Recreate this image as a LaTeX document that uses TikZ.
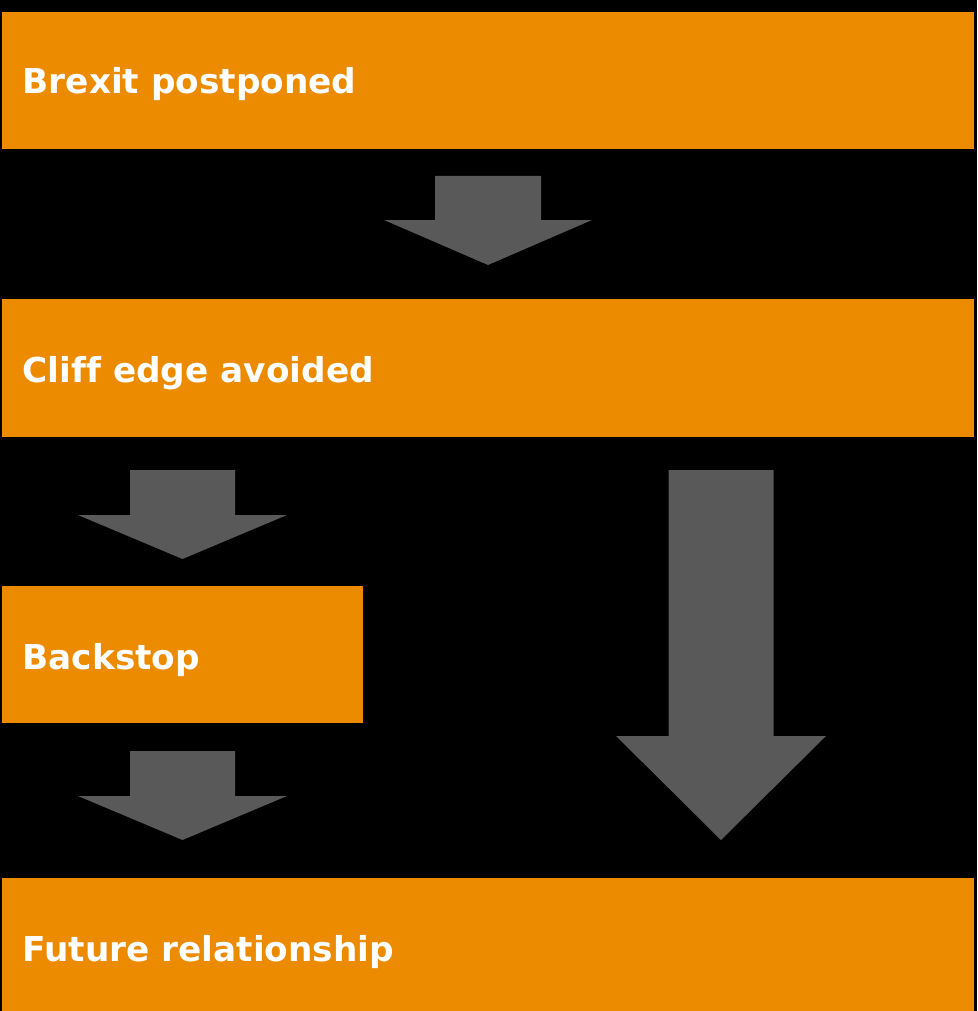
\documentclass[tikz,border=0pt]{standalone}
\usepackage{fontspec}
\setmainfont{DejaVu Sans}[Ligatures={NoCommon}]
\definecolor{boxorange}{HTML}{EC8A00}
\definecolor{arrowgray}{HTML}{595959}
\newcommand{\blockarrow}[7]{%
  % #1 center x, #2 top, #3 head base, #4 tip, #5 shaft half, #6 head half, #7 name
  \fill[arrowgray] (#1-#5,#2) -- (#1+#5,#2) -- (#1+#5,#3) -- (#1+#6,#3) -- (#1,#4) coordinate (#7) -- (#1-#6,#3) -- (#1-#5,#3) -- cycle;}
\begin{document}
\begin{tikzpicture}[x=1pt,y=-1pt,
  stage/.style={fill=boxorange,draw=none,anchor=north west,inner sep=0pt},
  label/.style={anchor=base west,inner sep=0pt,text=white,font=\fontsize{34.3}{40}\selectfont\bfseries}]
\fill[black] (0,0) rectangle (977,1011);
\useasboundingbox (0,0) rectangle (977,1011);
\node[stage,minimum width=972pt,minimum height=137pt] (b1) at (2,12) {};
\node[stage,minimum width=972pt,minimum height=138pt] (b2) at (2,299) {};
\node[stage,minimum width=361pt,minimum height=137pt] (b3) at (2,586) {};
\node[stage,minimum width=972pt,minimum height=140pt] (b4) at (2,878) {};
\node[label] (t1) at (22.5,94) {Brexit postponed};
\node[label] (t2) at (22.5,382) {Cliff edge avoided};
\node[label] (t3) at (22.5,669) {Backstop};
\node[label] (t4) at (22.5,961) {Future relationship};
\blockarrow{488}{176}{220}{265}{53}{104}{a1}
\blockarrow{182.5}{470}{515}{559}{52.5}{104.5}{a2}
\blockarrow{182.5}{751}{796}{840}{52.5}{104.5}{a3}
\blockarrow{721}{470}{736}{840}{52.5}{105}{a4}
\end{tikzpicture}
\end{document}
